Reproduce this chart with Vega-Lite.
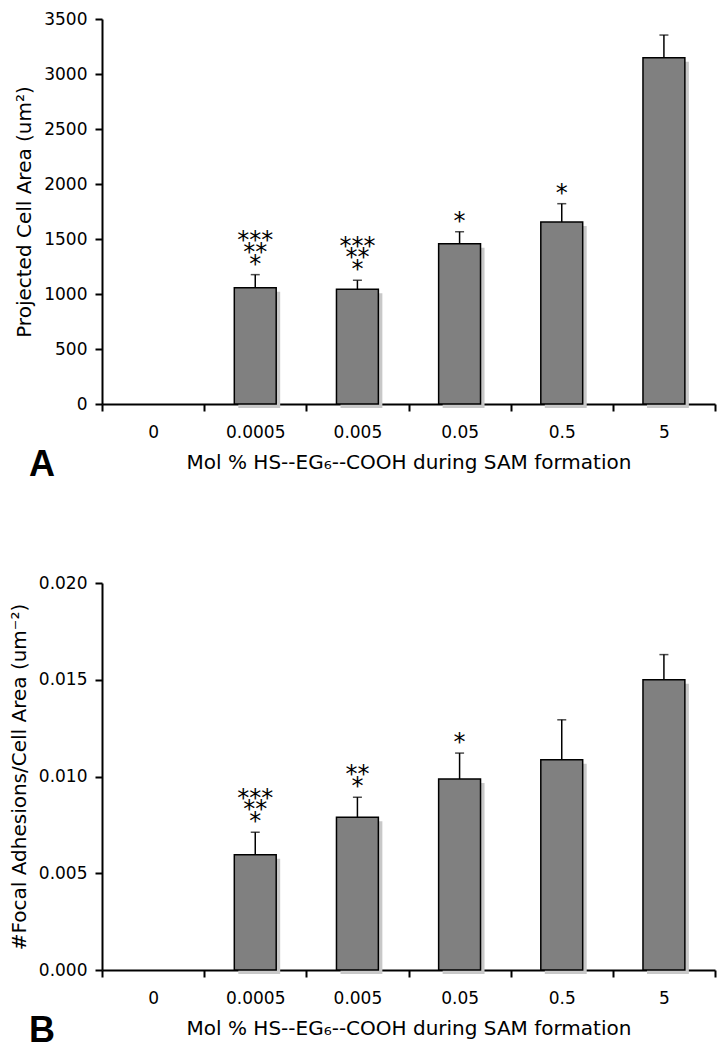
{
  "$schema": "https://vega.github.io/schema/vega-lite/v6.json",
  "padding": {"left": 9, "top": 10, "right": 5, "bottom": 2},
  "background": "white",
  "config": {
    "view": {"stroke": null},
    "font": "DejaVu Sans",
    "axis": {
      "domainColor": "black", "domainWidth": 2, "tickColor": "black", "tickWidth": 2, "tickSize": 7,
      "labelColor": "black", "labelFontSize": 17, "labelFont": "DejaVu Sans",
      "titleFont": "DejaVu Sans", "titleFontSize": 20, "titleFontWeight": "normal", "titleColor": "black",
      "grid": false
    },
    "axisY": {"labelPadding": 8, "titlePadding": 9},
    "axisX": {"labelPadding": 13, "titlePadding": 12, "labelAngle": 0, "tickBand": "extent"},
    "title": {"font": "Liberation Sans", "fontSize": 36, "fontWeight": "bold", "color": "black", "orient": "bottom", "anchor": "start", "frame": "group", "dx": -73, "dy": -28}
  },
  "datasets": {
    "area": [
      {"mol": "0.0005", "mean": 1057, "upper": 1176, "s1": "*", "s2": "**", "s3": "***"},
      {"mol": "0.005", "mean": 1043, "upper": 1124, "s1": "*", "s2": "**", "s3": "***"},
      {"mol": "0.05", "mean": 1457, "upper": 1566, "s1": "*", "s2": null, "s3": null},
      {"mol": "0.5", "mean": 1654, "upper": 1821, "s1": "*", "s2": null, "s3": null},
      {"mol": "5", "mean": 3148, "upper": 3354, "s1": null, "s2": null, "s3": null}
    ],
    "fa": [
      {"mol": "0.0005", "mean": 0.00596, "upper": 0.00712, "s1": "*", "s2": "**", "s3": "***"},
      {"mol": "0.005", "mean": 0.0079, "upper": 0.00893, "s1": "*", "s2": "**", "s3": null},
      {"mol": "0.05", "mean": 0.00987, "upper": 0.01121, "s1": "*", "s2": null, "s3": null},
      {"mol": "0.5", "mean": 0.01086, "upper": 0.01293, "s1": null, "s2": null, "s3": null},
      {"mol": "5", "mean": 0.0150, "upper": 0.0163, "s1": null, "s2": null, "s3": null}
    ]
  },
  "bounds": "flush",
  "spacing": 179,
  "vconcat": [
    {
      "width": 613, "height": 385,
      "title": {"text": "A"},
      "data": {"name": "area"},
      "encoding": {
        "x": {"field": "mol", "type": "ordinal",
          "scale": {"domain": ["0", "0.0005", "0.005", "0.05", "0.5", "5"], "paddingInner": 0, "paddingOuter": 0},
          "axis": {"title": "Mol % HS--EG₆--COOH during SAM formation"}}
      },
      "layer": [
        {"mark": {"type": "bar", "fill": "#c8c8c8", "xOffset": 4, "yOffset": 4, "width": {"band": 0.41}},
         "encoding": {"y": {"field": "mean", "type": "quantitative", "scale": {"domain": [0, 3500], "nice": false},
           "axis": {"title": "Projected Cell Area (um²)", "values": [0, 500, 1000, 1500, 2000, 2500, 3000, 3500], "format": "d"}}}},
        {"mark": {"type": "rule", "color": "black", "strokeWidth": 1.5},
         "encoding": {"y": {"field": "mean", "type": "quantitative"}, "y2": {"field": "upper"}}},
        {"mark": {"type": "bar", "fill": "#808080", "stroke": "black", "strokeWidth": 1.5, "width": {"band": 0.41}},
         "encoding": {"y": {"field": "mean", "type": "quantitative"}}},
        {"mark": {"type": "tick", "color": "black", "thickness": 1.5, "size": 9},
         "encoding": {"y": {"field": "upper", "type": "quantitative"}}},
        {"transform": [{"filter": "isValid(datum.s1)"}],
         "mark": {"type": "text", "font": "DejaVu Sans", "fontSize": 24, "baseline": "alphabetic", "dy": -3, "color": "black"},
         "encoding": {"y": {"field": "upper", "type": "quantitative"}, "text": {"field": "s1"}}},
        {"transform": [{"filter": "isValid(datum.s2)"}],
         "mark": {"type": "text", "font": "DejaVu Sans", "fontSize": 24, "baseline": "alphabetic", "dy": -15, "color": "black"},
         "encoding": {"y": {"field": "upper", "type": "quantitative"}, "text": {"field": "s2"}}},
        {"transform": [{"filter": "isValid(datum.s3)"}],
         "mark": {"type": "text", "font": "DejaVu Sans", "fontSize": 24, "baseline": "alphabetic", "dy": -26.5, "color": "black"},
         "encoding": {"y": {"field": "upper", "type": "quantitative"}, "text": {"field": "s3"}}}
      ]
    },
    {
      "width": 613, "height": 387,
      "title": {"text": "B"},
      "data": {"name": "fa"},
      "encoding": {
        "x": {"field": "mol", "type": "ordinal",
          "scale": {"domain": ["0", "0.0005", "0.005", "0.05", "0.5", "5"], "paddingInner": 0, "paddingOuter": 0},
          "axis": {"title": "Mol % HS--EG₆--COOH during SAM formation"}}
      },
      "layer": [
        {"mark": {"type": "bar", "fill": "#c8c8c8", "xOffset": 4, "yOffset": 4, "width": {"band": 0.41}},
         "encoding": {"y": {"field": "mean", "type": "quantitative", "scale": {"domain": [0, 0.02], "nice": false},
           "axis": {"title": "#Focal Adhesions/Cell Area (um⁻²)", "values": [0, 0.005, 0.01, 0.015, 0.02], "format": ".3f"}}}},
        {"mark": {"type": "rule", "color": "black", "strokeWidth": 1.5},
         "encoding": {"y": {"field": "mean", "type": "quantitative"}, "y2": {"field": "upper"}}},
        {"mark": {"type": "bar", "fill": "#808080", "stroke": "black", "strokeWidth": 1.5, "width": {"band": 0.41}},
         "encoding": {"y": {"field": "mean", "type": "quantitative"}}},
        {"mark": {"type": "tick", "color": "black", "thickness": 1.5, "size": 9},
         "encoding": {"y": {"field": "upper", "type": "quantitative"}}},
        {"transform": [{"filter": "isValid(datum.s1)"}],
         "mark": {"type": "text", "font": "DejaVu Sans", "fontSize": 24, "baseline": "alphabetic", "dy": -3, "color": "black"},
         "encoding": {"y": {"field": "upper", "type": "quantitative"}, "text": {"field": "s1"}}},
        {"transform": [{"filter": "isValid(datum.s2)"}],
         "mark": {"type": "text", "font": "DejaVu Sans", "fontSize": 24, "baseline": "alphabetic", "dy": -15, "color": "black"},
         "encoding": {"y": {"field": "upper", "type": "quantitative"}, "text": {"field": "s2"}}},
        {"transform": [{"filter": "isValid(datum.s3)"}],
         "mark": {"type": "text", "font": "DejaVu Sans", "fontSize": 24, "baseline": "alphabetic", "dy": -26.5, "color": "black"},
         "encoding": {"y": {"field": "upper", "type": "quantitative"}, "text": {"field": "s3"}}}
      ]
    }
  ]
}
